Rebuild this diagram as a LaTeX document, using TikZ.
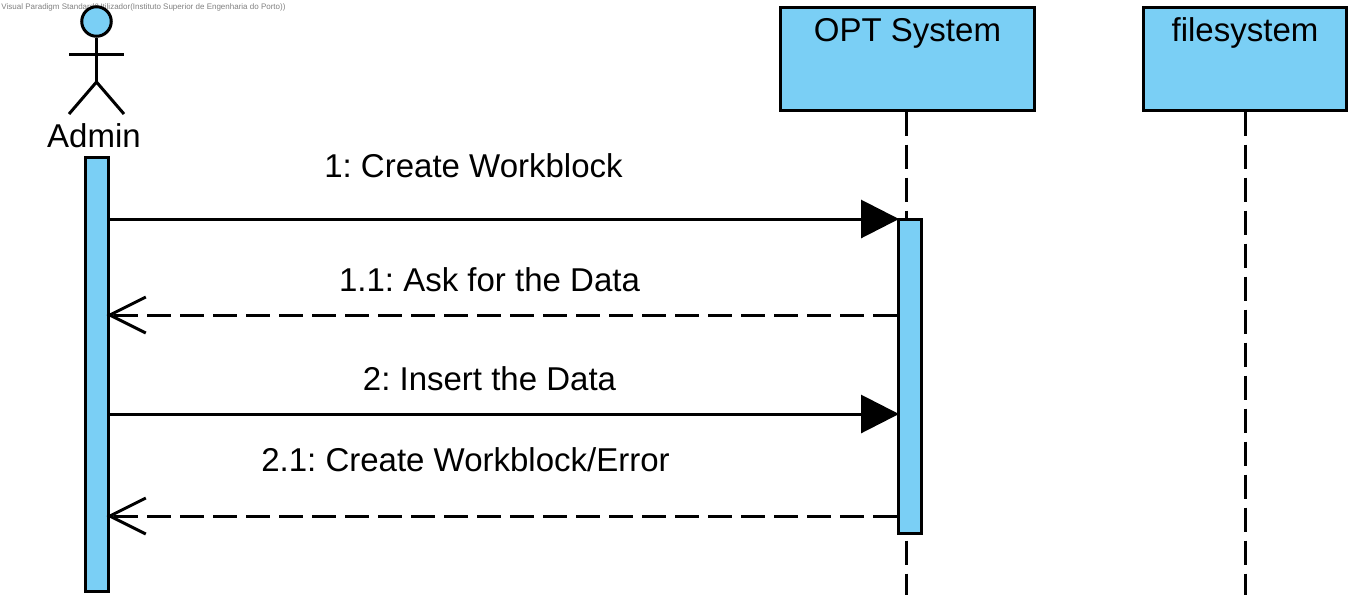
\documentclass[tikz,border=0pt]{standalone}
\usepackage{fontspec}
\setmainfont{Liberation Sans}
\usetikzlibrary{arrows.meta}
\definecolor{vpblue}{RGB}{122,207,245}
\begin{document}
\frenchspacing
\begin{tikzpicture}[
    x=1pt, y=-1pt,
    line width=3pt,
    objectbox/.style={
        draw, fill=vpblue,
        minimum width=254pt,
        inner sep=0pt,
        text height=34.5pt,
        text depth=68.5pt,
        font=\fontsize{33}{36}\selectfont
    },
    activation/.style={
        draw, fill=vpblue,
        minimum width=23pt,
        inner sep=0pt,
        anchor=north
    },
    msglabel/.style={
        anchor=base,
        inner sep=0pt,
        font=\fontsize{33}{36}\selectfont
    },
    lifeline/.style={dash pattern=on 24pt off 9pt},
    callmsg/.style={-{Triangle[length=38pt,width=38pt]}, shorten >=-2.5pt},
    replymsg/.style={
        dash pattern=on 24pt off 9pt,
        -{Straight Barb[length=36pt,width=36pt]}, shorten >=-3pt
    }
]
\useasboundingbox (0,0) rectangle (1365,606);
\node[anchor=west, inner sep=0pt, text=gray, font=\fontsize{8}{10}\selectfont] (watermark) at (0,7)
    {Visual Paradigm Standard(Utilizador(Instituto Superior de Engenharia do Porto))};
% actor
\node[draw, circle, fill=vpblue, minimum size=29.5pt, inner sep=0pt] (head) at (96.5,21.5) {};
\coordinate (hip) at (96.5,82);
\coordinate (armleft) at (69,54);
\coordinate (armright) at (124,54);
\coordinate (footleft) at (69,114);
\coordinate (footright) at (124,114);
\draw (head.south) -- (hip);
\draw (armleft) -- (armright);
\draw (footleft) -- (hip) -- (footright);
\node[msglabel] (admin) at (94,147) {Admin};
% objects
\node[objectbox, anchor=north] (opt) at (907.5,5.5) {OPT System};
\node[objectbox, anchor=north, minimum width=203pt] (filesystem) at (1245,5.5) {filesystem};
\coordinate (opttop) at (906,111.5);
\coordinate (optend) at (906,595);
\coordinate (fileend) at (1245,595);
\draw[lifeline] (opttop) -- (optend);
\draw[lifeline] (filesystem.south) -- (fileend);
% activations
\node[activation, minimum height=434pt] (adminbar) at (96.5,155.5) {};
\node[activation, minimum height=314pt] (optbar) at (909.5,218) {};
% messages
\coordinate (m1) at (0,219);
\coordinate (m2) at (0,315);
\coordinate (m3) at (0,414);
\coordinate (m4) at (0,516);
\draw[callmsg] (adminbar.east |- m1) -- (optbar.west |- m1);
\draw[replymsg] (optbar.west |- m2) -- (adminbar.east |- m2);
\draw[callmsg] (adminbar.east |- m3) -- (optbar.west |- m3);
\draw[replymsg] (optbar.west |- m4) -- (adminbar.east |- m4);
\node[msglabel] (create) at (473.5,177) {1: Create Workblock};
\node[msglabel] (ask) at (489.5,291) {1.1: Ask for the Data};
\node[msglabel] (insert) at (489.5,390) {2: Insert the Data};
\node[msglabel] (result) at (465.5,471) {2.1: Create Workblock/Error};
\end{tikzpicture}
\end{document}
